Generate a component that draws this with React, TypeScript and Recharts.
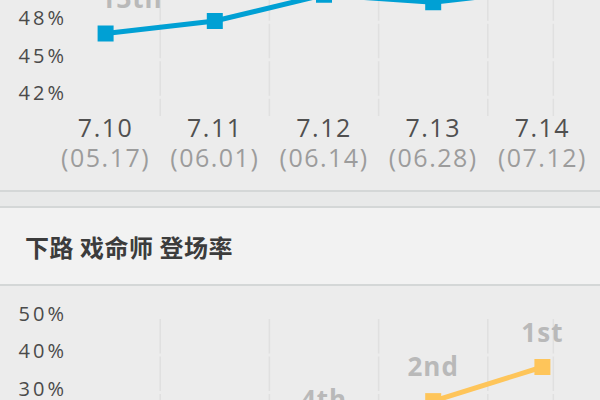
import { LabelList, Line, LineChart, ReferenceLine, XAxis, YAxis } from "recharts";

// patches along the x axis, with their release dates
const patches = ["7.10", "7.11", "7.12", "7.13", "7.14"];
const patchDates = ["05.17", "06.01", "06.14", "06.28", "07.12"];

// top chart (win rate, %), partly cut off by the page
const winRates = [47.1, 48.1, 50.2, 49.6, 50.6];
const winRanks = ["13th", "9th", "5th", "6th", "4th"];
const winTicks = [42, 45, 48, 51];

// bottom chart: 下路 戏命师 登场率 (%)
const pickRates = [10.4, 13.6, 18.9, 27.7, 36.8];
const pickRanks = ["6th", "5th", "4th", "2nd", "1st"];
const pickTicks = [0, 10, 20, 30, 40, 50];

// column dividers between patches
const dividers = [0.5, 1.5, 2.5, 3.5, 4.1];

const BG = "#ececec";
const NUM_FONT = "'Open Sans', 'Noto Sans', sans-serif";

const winData = patches.map((p, i) => ({ idx: i, rate: winRates[i], rank: winRanks[i] }));
const pickData = patches.map((p, i) => ({ idx: i, rate: pickRates[i], rank: pickRanks[i] }));

function PatchTick({ x, y, payload }: any) {
  const i = payload.value;
  return (
    <g fontFamily={NUM_FONT} fontSize={25} letterSpacing={1.5}>
      <text x={x} y={y + 20.5} textAnchor="middle" fill="#505050">
        {patches[i]}
      </text>
      <text x={x} y={y + 50.5} textAnchor="middle" fill="#9c9c9c">
        ({patchDates[i]})
      </text>
    </g>
  );
}

function PercentTick({ x, y, payload }: any) {
  return (
    <text
      x={x + 16}
      y={y + 3}
      textAnchor="end"
      fontFamily={NUM_FONT}
      fontSize={20}
      letterSpacing={3}
      fill="#4a4a4a"
    >
      {payload.value}%
    </text>
  );
}

function squareDot(color: string) {
  return (props: any) => {
    const { cx, cy, index } = props;
    if (cx == null || cy == null) return <g key={index} />;
    return <rect key={index} x={cx - 8} y={cy - 8} width={16} height={16} fill={color} />;
  };
}

function RankLabel(props: any) {
  const { x, y, value, index } = props;
  const first = index === 0;
  return (
    <text
      x={first ? x - 5 : x}
      y={y - 25.5}
      textAnchor={first ? "start" : "middle"}
      fontFamily={NUM_FONT}
      fontWeight="bold"
      fontSize={26}
      letterSpacing={1}
      fill="#b9b9b9"
    >
      {value}
    </text>
  );
}

interface TrendProps {
  data: { idx: number; rate: number; rank: string }[];
  color: string;
  domain: [number, number];
  ticks: number[];
  height: number;
  marginTop: number;
}

function TrendChart({ data, color, domain, ticks, height, marginTop }: TrendProps) {
  return (
    <LineChart
      width={600}
      height={height}
      data={data}
      margin={{ top: marginTop, right: 3, left: 0, bottom: 0 }}
      style={{ overflow: "visible" }}
    >
      <XAxis
        dataKey="idx"
        type="number"
        domain={[-0.5, 4.5]}
        ticks={[0, 1, 2, 3, 4]}
        tick={<PatchTick />}
        tickLine={false}
        axisLine={false}
        tickSize={0}
        tickMargin={0}
        height={70}
        interval={0}
      />
      <YAxis
        type="number"
        domain={domain}
        ticks={ticks}
        tick={<PercentTick />}
        tickLine={false}
        axisLine={false}
        tickSize={0}
        tickMargin={0}
        width={51}
        interval={0}
      />
      {dividers.map((d) => (
        <ReferenceLine key={`v${d}`} x={d} stroke="#e0e0e0" strokeWidth={1.5} />
      ))}
      {ticks.map((t) => (
        <ReferenceLine key={`h${t}`} y={t} stroke={BG} strokeWidth={3} />
      ))}
      <Line
        type="linear"
        dataKey="rate"
        stroke={color}
        strokeWidth={5}
        dot={squareDot(color)}
        activeDot={false}
        isAnimationActive={false}
      >
        <LabelList dataKey="rank" content={<RankLabel />} />
      </Line>
    </LineChart>
  );
}

export default function App() {
  return (
    <div
      style={{
        position: "fixed",
        top: 0,
        left: 0,
        width: 600,
        height: 400,
        overflow: "hidden",
        background: BG,
      }}
    >
      <div style={{ position: "absolute", top: -60, left: 0 }}>
        <TrendChart
          data={winData}
          color="#00a0d4"
          domain={[40.5, 51.5]}
          ticks={winTicks}
          height={246}
          marginTop={38.5}
        />
      </div>

      <div style={{ position: "absolute", top: 190, left: 0, width: 600, height: 2, background: "#d4d7d7" }} />
      <div style={{ position: "absolute", top: 192, left: 0, width: 600, height: 14, background: "#e8e9e9" }} />
      <div style={{ position: "absolute", top: 206, left: 0, width: 600, height: 2, background: "#d4d7d7" }} />
      <div
        style={{
          position: "absolute",
          top: 208,
          left: 0,
          width: 600,
          height: 76,
          background: "#f2f2f2",
          display: "flex",
          alignItems: "center",
          paddingLeft: 25,
          boxSizing: "border-box",
          fontFamily: "'Noto Sans CJK SC', sans-serif",
          fontWeight: "bold",
          fontSize: 24,
          letterSpacing: 0.5,
          color: "#3c3c3c",
        }}
      >
        下路 戏命师 登场率
      </div>
      <div style={{ position: "absolute", top: 284, left: 0, width: 600, height: 2, background: "#d4d7d7" }} />

      <div style={{ position: "absolute", top: 290, left: 0 }}>
        <TrendChart
          data={pickData}
          color="#fec55a"
          domain={[0, 50]}
          ticks={pickTicks}
          height={285}
          marginTop={27.5}
        />
      </div>
    </div>
  );
}
